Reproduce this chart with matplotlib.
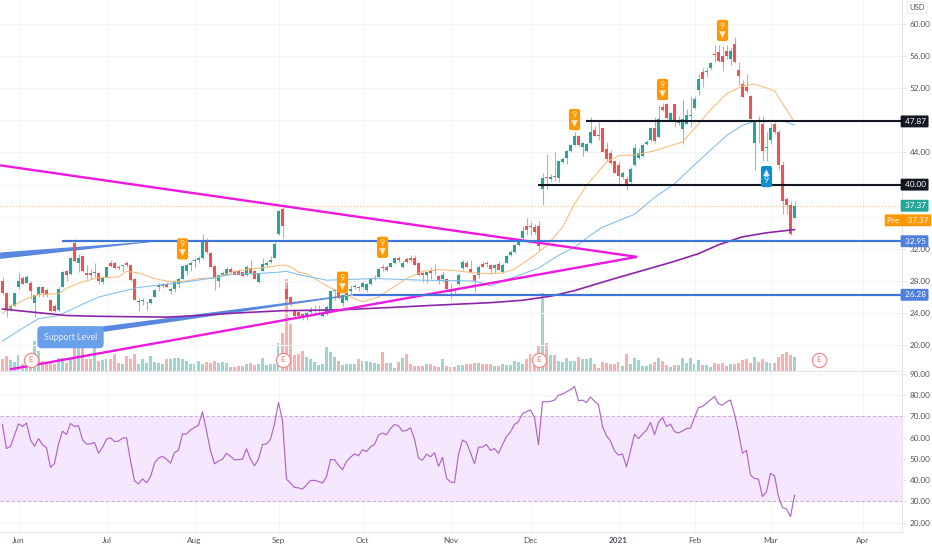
import matplotlib
matplotlib.use("Agg")
import matplotlib.pyplot as plt
import numpy as np

plt.rcParams['font.family'] = ['Lato', 'DejaVu Sans']

opens = [28.05,26.5,24.5,24.9,27.2,28.4,27.8,27.8,25.2,26.2,27.2,26.9,25.6,24.9,24.4,27.3,29.3,28.9,32.7,30.2,
31.1,29,29,29,29,27.9,28.5,30.2,30.2,29.8,29.9,30.3,30,28.3,25.4,25.5,25.2,25.3,26,27.2,
27.4,27.6,26.8,27,27.6,28.3,29.2,30,30.5,30.6,30.9,33,31.5,29.9,28,28.8,28.8,29.5,29.2,29.2,
29.1,28.7,29.6,29.2,27.9,29.3,30,30.4,30.9,33.9,37,27,26,24.3,24.1,23.9,23.5,24.1,24.2,24.2,
23.7,23.9,24.4,26.7,27.2,25.3,25.6,26.8,27.3,27.2,27.3,26.9,27.6,28.2,28.5,29.8,29.7,29.8,30.3,30.9,
29.8,30.7,30.8,30.9,30.2,29,28.8,29.2,29.4,28.6,28.3,28.3,27,26.9,27.6,29.6,30.2,29.5,28.7,28.7,
30.1,30.2,30,29.6,30.1,29.1,30.3,31.2,31.6,32.5,33.4,34.9,34.8,34.7,34.8,39.4,41,40.7,41,40.8,
42.8,43.3,44.2,44.9,46.1,44.7,44.2,45.2,46.8,46.2,47,44.4,43.9,42.9,42.5,41,40.7,40.3,42.4,43.3,
43.6,45.1,45.5,47.1,45.9,49.7,50,48,50,47.7,46.9,47.6,48.6,49.5,51.8,54,54,54.5,56.3,56.5,
56,56.7,55.6,57.5,54.3,52.5,52.2,51,45.2,47.9,47.5,44.5,45.5,47.5,46.5,42.4,38.2,37.5,35.9]
highs = [28.5,26.6,25.1,26.5,29,28.6,28.7,28,26.3,27.4,27.4,27.1,25.7,25.1,27.2,29.2,29.4,31,33.2,31.4,
31.2,30,29.5,30.2,29,28.6,29.8,30.6,30.5,30,30,30.5,30.1,28.4,25.9,25.9,25.5,25.8,27,27.7,
27.8,27.9,27.2,28.1,28.5,30,30.2,30.5,30.9,31.1,33.8,33.3,31.6,30,28.8,29.2,29.8,29.7,29.4,29.4,
29.3,30,30.6,29.4,29,30.8,30.5,31.1,32.8,36.9,37.2,27.6,26.1,24.5,24.3,24,24.2,24.7,25,25,
24.2,25,26.9,27,27.4,26.3,26.6,27.5,27.6,27.4,27.9,27.7,28.4,28.7,29.7,30.1,30,30.3,30.9,31.1,
30.6,31,31.2,31.2,30.3,29.1,29.1,29.7,30.1,28.7,29.1,28.4,27.6,27.1,29,30.6,30.6,30.6,28.7,30,
30.5,30.5,30.1,30.1,30.5,30.2,31.2,31.9,32.6,33.3,34.9,35.8,35.3,35.1,35.5,41.5,43.8,41.3,44,43,
43.4,44.3,45,46.6,46.2,45.3,45.2,48.4,47.3,47.8,47.1,45.3,44.3,43,42.8,41.7,41.1,42.2,45,44.5,
45.1,45.5,47.2,48.4,49.9,50.2,50.2,49.1,50.1,48.6,50.7,49.4,51,51,53.8,54.5,54.7,55.3,57.4,57.4,
57.2,57.4,57,58.4,55.3,53,53.8,51.2,48,48.5,48.6,46.5,47.7,47.8,46.8,43,38.4,38,38]
lows = [26.2,23.5,24.3,24.9,27,27.6,27.7,25.8,23.5,26,26,26,24.1,24.1,24.3,27.2,28,28.8,30.4,29.1,
29.1,28.3,28.3,28.5,27.6,27.6,28.4,29.8,29.5,29.4,29.1,29.7,28,25.6,24.3,25,24.4,25.1,26,26.8,
27.1,27.2,26.4,26.6,27.1,28.2,28.8,29.3,29.7,30.3,30.7,31.4,29.7,26.9,27.2,28.7,28.7,29,28.7,28.7,
28.5,28.6,28.9,28.2,27.7,29.2,29.8,30.3,30.8,33.7,33.3,25.7,24.9,23.5,23.3,23.1,23.2,23.8,23.9,23.9,
23.5,23.8,24.3,25.6,25.8,24.9,25.5,26.4,27,26.7,27.1,26.6,27.5,28.1,28.4,29.3,29.2,29.7,30.1,30.4,
29.6,30.2,30.4,30,28.7,27.9,27.8,28.3,28.7,27.6,27.9,26.7,25.9,26.2,27.5,29.4,29.7,29,26.6,28.4,
29.7,29.7,28.9,29,29.4,29,30.2,31.1,31.5,32.4,33.2,33.7,33.7,33.9,31.9,37.4,39.5,40.5,40.5,40.3,
42.7,42.6,44,44.8,44.7,43.6,44.1,45.1,46,45.5,44,43,42.6,41.5,39.9,40.7,39.3,40.2,42.3,43.2,
43.4,44.9,45.4,45.2,45.8,49.2,48.2,47.9,47.2,47.4,45.1,47.5,47.2,49.4,51.1,52.2,53.4,54.3,55.3,55.3,
54.2,55.7,54.9,55.2,52.4,50.9,51.4,48.2,41.8,45.2,43,43,45.1,46.3,41.8,36.4,36.3,33.7,35.8]
closes = [26.5,24.5,24.9,26.5,28,27.6,28.5,26.8,26.2,27.3,26.5,26.3,24.2,24.3,27,29.1,28.7,30.9,30.5,30.8,
29.2,28.8,28.8,29,28,28.5,29.7,29.9,29.6,29.6,30,30,28.1,25.6,25.5,25.6,25.3,25.7,26.9,27.5,
27.6,27.3,27,28,28.2,29.9,30,30.3,30.6,30.9,33,31.6,29.8,28.4,28.7,29,29.5,29.1,28.8,28.7,
28.6,29.7,29,28.3,28.9,30.1,30.2,30.6,32.6,36.7,34.9,25.8,25.1,23.7,23.6,23.4,24,24.3,24.3,24.3,
24,24.8,26.8,26.8,25.9,26.2,26.5,27,27.4,27.1,27.8,27.6,28.2,28.4,29.5,29.6,29.4,30.3,30.8,30.6,
30.3,30.4,30.6,30,28.8,28.7,29.1,29,29.2,28.1,28.8,27,26.6,26.8,28.8,30.4,29.8,29.1,28,29.8,
29.8,30.1,29.5,30,29.4,30,31.1,31.6,32.5,32.8,34.2,34.4,34.7,34.1,32.4,40.8,40.8,41,40.9,42.9,
43.2,44.2,44.9,46.1,44.9,45.2,45,46.6,46.1,46,44.1,43.2,42.7,41.5,41.1,41.4,39.8,42,44.5,43.9,
44.9,45.3,47,45.4,48.2,49.3,48.3,48.9,47.8,47.9,48.2,48.7,48.7,50.6,53.1,53.1,54.2,55.1,56.1,55.4,
55.3,56,56.6,55.3,53.5,50.9,51.7,48.2,47.9,47.8,44.2,44.7,47.1,46.5,42.4,38,37.5,33.8,37.3]
volumes = [35,45,32,28,48,20,35,50,90,60,30,28,25,20,38,40,25,35,85,80,
100,35,35,90,30,32,35,35,52,25,20,45,35,50,20,35,25,45,28,25,
22,35,35,38,38,36,30,20,20,30,20,28,25,30,25,28,25,12,12,15,
15,20,25,18,20,38,18,20,20,85,115,275,140,48,50,60,42,35,28,18,
22,72,58,42,30,18,22,22,22,37,30,30,28,25,22,58,25,25,10,28,
38,50,20,15,15,15,20,20,15,12,35,15,12,12,18,18,20,22,25,25,
20,20,20,15,15,20,18,18,30,28,22,35,50,20,75,235,85,48,48,30,
28,38,30,30,42,35,35,38,22,10,27,25,22,22,27,16,52,22,40,32,
16,14,22,27,40,30,18,12,18,17,38,25,38,22,32,18,18,13,24,20,
24,16,20,20,25,33,36,25,42,27,36,27,24,24,42,50,57,48,42]
rsi = [66.1,54.9,55.9,61.2,66.5,65.3,66.9,59,56,59.6,56.7,55.2,46,47.9,57,63.1,61.5,66.7,65.3,65.6,
59,57,57.1,57.8,52.7,55.4,59.3,60,58.2,58.4,59.8,60,49.1,39.7,38.3,40.6,38.8,41.6,48,50.5,
51.2,49.9,48,53,54.1,61.8,61.7,63.7,64.8,65.9,72.2,63.2,53.8,47.7,49,49.9,52.7,51.2,49.6,49.7,
49.9,54.8,49.9,46.8,49.9,56.8,57.1,59.3,66.4,76.6,68,40.5,38.6,36.6,36.4,35.8,37.8,39.9,39.9,39.4,
38.6,41.7,49.7,49.6,47.1,44.9,48.8,50.8,52.4,51.5,54.3,53.5,55.7,56.8,61.2,62.2,61.4,64.3,66.2,65.6,
63.1,63.4,64.7,59.3,50.4,49.4,52.3,51,52.9,46.5,50.7,41,39.1,38.9,52.1,58.9,57.8,52.9,47.7,55.6,
55.6,56.8,54,54.9,52.6,56.7,60.6,62.8,66.2,67.6,71.4,72.2,73.1,69.5,56.7,76.9,76.9,77.1,77.7,80,
80.5,81.6,82.6,84.1,77.4,77.7,76.6,79.1,77.2,75.5,65.3,60.9,58.5,53.8,51.8,52.3,46.3,53.8,61.7,59.6,
61.7,63.6,67.2,61.4,67.2,69.5,65.3,66.4,62.9,62.2,63.2,64.3,64.5,69.5,74.2,74.7,76.3,77.8,79.4,76,
75.3,76.9,77.7,71.1,62.5,52.7,54,42.4,40.8,40.5,32.3,34.5,43.2,42.1,32.3,27.1,26.4,22.9,32.9]

ma_fast_i = [0,2,4,7,9,14,16,20,24,29,31,34,38,42,46,49,53,58,62,66,70,72,74,76,81,86,90,94,97,101,105,109,113,118,122,125,128,133,136,140,143,146,151,154,158,163,166,170,173,177,181,185,188,190,193,195,198]
ma_fast_v = [24,24.7,25.3,26,26.3,26.4,27.1,27.9,28.4,28.5,29.2,29,28.3,27.9,28,28.3,28.4,29.2,29.5,29.7,30,29.8,29.1,28.9,27.4,26.2,25.4,26,27,28.3,29.2,29.4,29.3,29,28.9,29,29.5,31.2,32.4,34.7,37.6,39.9,42.8,43.6,43.7,44.2,44.7,45.3,47,49.3,51.3,52.3,52.5,52.2,51.7,50.1,47.8]
ma_slow_i = [0,4,9,14,20,24,29,34,41,46,53,58,63,69,71,74,76,81,93,105,118,122,128,134,139,143,147,150,158,163,168,172,177,181,185,188,193,196,198]
ma_slow_v = [20.5,21.8,23.3,23.7,25.1,26,26.6,27.2,27.6,27.9,28.4,28.9,28.9,29.1,29.2,28.8,28.6,28.1,28.3,28.1,28,27.4,28.5,29.6,31.2,32.2,33.7,34.7,36.3,38.4,40.1,42,44.3,46.1,47.4,47.9,48,47.8,47.4]
ma_long_i = [0,8,16,24,41,49,58,70,84,97,109,122,130,137,143,147,153,160,167,174,179,185,191,198]
ma_long_v = [24.5,24.1,23.7,23.6,23.5,23.7,24,24.3,24.4,24.7,25,25.3,25.6,26.1,26.8,27.4,28.3,29.3,30.3,31.4,32.5,33.5,34,34.4]

month_pos = [4,26,48,69,90,112,132,154,173,192,215]
month_labels = ['Jun','Jul','Aug','Sep','Oct','Nov','Dec','2021','Feb','Mar','Apr']
price_ticks = [60,56,52,48,44,40,36,32,28,24,20]
price_tick_labels = ['60.00','56.00','52.00','','44.00','','','32.00','28.00','24.00','20.00']
rsi_ticks = [90,80,70,60,50,40,30,20]

GREEN, RED = '#26a69a', '#ef5350'
TXT = '#50535e'
GRID = '#f3f4f8'
AX = '#e3e5ea'
FS = 5.9

W, H = 932, 550
fig = plt.figure(figsize=(W/100, H/100), dpi=100)
ax = fig.add_axes([0, (H-371)/H, 902/W, 371/H])
axv = ax.twinx()
rx = fig.add_axes([0, (H-531.5)/H, 902/W, 160.5/H], sharex=ax)
x0, x1 = -0.625, 224.875
ax.set_xlim(x0, x1)
ax.set_ylim(16.79, 62.99)
axv.set_ylim(0, 1113)
rx.set_ylim(15.85, 91.4)
ax.set_zorder(2); ax.patch.set_visible(False); axv.set_zorder(1)

idx = np.arange(len(closes))
o, h, l, c = map(np.array, (opens, highs, lows, closes))
up = c >= o
cols = np.where(up, GREEN, RED)

axv.bar(idx, volumes, width=0.78, color=cols, alpha=0.45, linewidth=0)
axv.set_yticks([]); axv.tick_params(right=False, labelright=False)
for s in axv.spines.values():
    s.set_visible(False)

ax.grid(True, color=GRID, lw=0.8); ax.set_axisbelow(True)
rx.grid(True, color=GRID, lw=0.8); rx.set_axisbelow(True)

# drawings behind price
ax.axhline(37.37, color='#f6c98a', lw=0.9, ls=(0, (1, 1.5)), zorder=1.5)
ax.fill([-0.6, 38.6, 38.6, -0.6], [31.55, 32.98, 32.92, 30.75], color='#5a88de', lw=0, zorder=2)
ax.fill([24.4, 87.6, 87.6, 24.4], [22.3, 26.35, 26.2, 21.6], color='#5a88de', lw=0, zorder=2)

ax.vlines(idx, l, h, colors=cols, lw=0.8, alpha=0.6, zorder=3)
ax.bar(idx, np.maximum(np.abs(c-o), 0.12), bottom=np.minimum(o, c), width=0.78, color=cols, linewidth=0, zorder=3.2)

ax.plot(ma_fast_i, ma_fast_v, color='#f7bd78', lw=0.75, zorder=3.5)
ax.plot(ma_slow_i, ma_slow_v, color='#7fbde9', lw=0.75, zorder=3.5)
ax.plot(ma_long_i, ma_long_v, color='#8e24aa', lw=1.2, zorder=3.6)

ax.plot([-0.6, 158.6], [42.4, 31.0], color='#ee18e0', lw=1.7, zorder=3.8, solid_capstyle='butt')
ax.plot([1.9, 158.6], [17.0, 31.0], color='#ee18e0', lw=1.7, zorder=3.8, solid_capstyle='butt')
ax.plot([14.9, x1], [32.95, 32.95], color='#3f77d8', lw=1.6, zorder=4, solid_capstyle='butt')
ax.plot([87.6, x1], [26.28, 26.28], color='#3f77d8', lw=1.6, zorder=4, solid_capstyle='butt')
ax.plot([145.9, x1], [47.87, 47.87], color='#131722', lw=1.5, zorder=4, solid_capstyle='butt')
ax.plot([133.9, x1], [40.0, 40.0], color='#131722', lw=1.5, zorder=4, solid_capstyle='butt')

# signal badges
for bi, bp in [(45, 32.0), (85, 27.85), (95, 32.2), (143, 48.1), (165, 51.85), (180, 59.2)]:
    ax.text(bi, bp, '9\n▼', color='#ffe9c6', fontsize=6.4, ha='center', va='center', linespacing=0.85, zorder=5,
            bbox=dict(boxstyle='round,pad=0.24,rounding_size=0.25', fc='#ff9800', ec='none'))
ax.text(191, 41.0, '▲\n9', color='#d7f0fb', fontsize=6.4, ha='center', va='center', linespacing=0.85, zorder=5,
        bbox=dict(boxstyle='round,pad=0.24,rounding_size=0.25', fc='#0a8fd0', ec='none'))

# earnings
for ei in [7, 70, 134, 204]:
    ax.scatter([ei], [18.16], s=105, facecolor='white', edgecolor='#f08a8a', lw=0.9, zorder=5.5, clip_on=False)
    ax.text(ei, 18.16, 'E', color='#e57373', fontsize=5.5, ha='center', va='center', zorder=5.6)

ax.text(17, 21.0, 'Support Level', color='#e8f0fc', fontsize=6.3, ha='center', va='center', zorder=5,
        bbox=dict(boxstyle='round,pad=0.75,rounding_size=0.5', fc='#6a9fea', ec='none'))

# axes
ax.yaxis.tick_right()
ax.set_yticks(price_ticks)
ax.set_yticklabels(price_tick_labels, fontsize=FS, color=TXT)
ax.tick_params(axis='y', length=3, width=0.7, color=AX, pad=2.5)
ax.tick_params(axis='x', length=0, labelbottom=False)
ax.set_xticks(month_pos)
for s in ('top', 'left'):
    ax.spines[s].set_visible(False)
    rx.spines[s].set_visible(False)
ax.spines['right'].set_color(AX); ax.spines['bottom'].set_color(AX)
ax.spines['right'].set_linewidth(0.8); ax.spines['bottom'].set_linewidth(0.8)

rx.yaxis.tick_right()
rx.set_yticks(rsi_ticks)
rx.set_yticklabels([f'{t:.2f}' for t in rsi_ticks], fontsize=FS, color=TXT)
rx.tick_params(axis='y', length=3, width=0.7, color=AX, pad=2.5)
rx.set_xticks(month_pos)
rx.set_xticklabels(month_labels, fontsize=FS, color=TXT)
rx.get_xticklabels()[7].set_fontweight('bold')
rx.tick_params(axis='x', length=0, pad=4)
rx.spines['right'].set_color(AX); rx.spines['bottom'].set_color(AX)
rx.spines['right'].set_linewidth(0.8); rx.spines['bottom'].set_linewidth(0.8)
rx.set_xlim(x0, x1)

rx.axhspan(30, 70, color='#f5e7fd', lw=0, zorder=1)
rx.axhline(70, color='#cfaed8', lw=0.8, ls=(0, (3, 2)), zorder=1.5)
rx.axhline(30, color='#cfaed8', lw=0.8, ls=(0, (3, 2)), zorder=1.5)
rx.plot(idx, rsi, color='#b067c4', lw=0.85, zorder=3)

# price labels
tr = ax.get_yaxis_transform()
def tag(y, s, col, tc='white', xf=1.0012):
    ax.text(xf, y, s, transform=tr, color=tc, fontsize=FS, ha='left', va='center', zorder=8, clip_on=False,
            bbox=dict(boxstyle='round,pad=0.3,rounding_size=0.15', fc=col, ec='none'))
tag(47.87, ' 47.87', '#131722')
tag(40.0, ' 40.00', '#131722')
tag(37.37, ' 37.37', GREEN)
tag(35.55, 'Pre    37.37', '#ff9800', xf=0.9835)
tag(32.95, ' 32.95', '#4f80dc')
tag(26.28, ' 26.28', '#4f80dc')

fig.text(917/W, 1-7.5/H, 'USD', fontsize=FS-0.4, color=TXT, ha='center', va='center',
         bbox=dict(boxstyle='round,pad=0.3,rounding_size=0.25', fc='white', ec='#e6e8ee', lw=0.6))

fig.savefig('out.png', dpi=100)
